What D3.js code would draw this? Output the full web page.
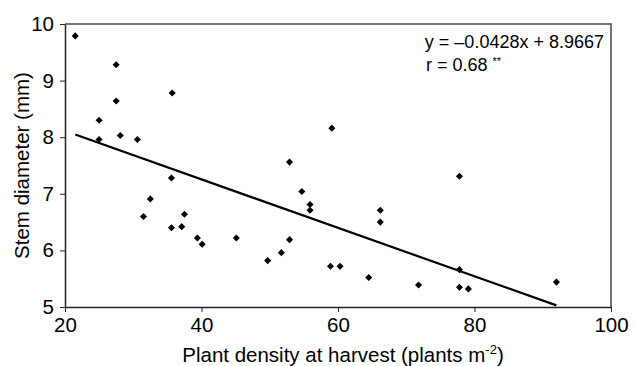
<!DOCTYPE html>
<html lang="en">
<head>
<meta charset="UTF-8">
<title>Stem diameter vs plant density</title>
<script src="https://d3js.org/d3.v7.min.js"></script>
<style>
    body { margin: 0; background: #fff; font-family: "Liberation Sans", Arial, sans-serif; }
    .axis text { font-size: 20.5px; fill: #000; font-family: "Liberation Sans", Arial, sans-serif; }
    .axis path, .axis line { stroke: #222; }
</style>
</head>
<body>
<div id="chart"></div>
<script>
// plant density at harvest (plants m-2)
const density = [21.5, 27.5, 27.5, 35.7, 25.0, 25.0, 28.1, 30.6,
    35.6, 32.5, 31.5, 37.5, 35.6, 37.1, 39.4, 40.1, 45.1,
    59.1, 52.9, 54.7, 55.9, 55.9, 66.2, 66.2, 52.9, 51.7, 49.7, 58.9, 60.3, 64.5,
    77.8, 77.8, 71.8, 77.8, 79.1, 92.0];
// stem diameter (mm)
const diameter = [9.79, 9.28, 8.64, 8.78, 8.30, 7.96, 8.03, 7.96,
    7.28, 6.91, 6.60, 6.64, 6.40, 6.42, 6.22, 6.11, 6.22,
    8.16, 7.56, 7.04, 6.81, 6.71, 6.71, 6.50, 6.19, 5.96, 5.82, 5.72, 5.72, 5.52,
    7.31, 5.66, 5.39, 5.35, 5.32, 5.44];
const xTicks = [20, 40, 60, 80, 100];
const yTicks = [5, 6, 7, 8, 9, 10];
const slope = -0.0428, intercept = 8.9667;

const W = 635, H = 366;
const margin = { top: 24, right: 24, bottom: 59, left: 65 };
const width = W - margin.left - margin.right;
const height = H - margin.top - margin.bottom;

const svg = d3.select("#chart").append("svg")
    .attr("width", W).attr("height", H);
const g = svg.append("g").attr("transform", `translate(${margin.left},${margin.top})`);

const x = d3.scaleLinear().domain([20, 100]).range([0, width]);
const y = d3.scaleLinear().domain([5, 10]).range([height, 0]);

// frame (top + right)
g.append("path")
    .attr("d", `M0,0H${width}V${height}`)
    .attr("fill", "none").attr("stroke", "#444").attr("stroke-width", 1.5);

g.append("g").attr("class", "axis")
    .attr("transform", `translate(0,${height})`)
    .call(d3.axisBottom(x).tickValues(xTicks).tickFormat(d3.format("d"))
        .tickSize(5).tickSizeOuter(0).tickPadding(5))
    .call(a => a.select(".domain").attr("stroke-width", 1.5));

g.append("g").attr("class", "axis")
    .call(d3.axisLeft(y).tickValues(yTicks).tickFormat(d3.format("d"))
        .tickSize(5).tickSizeOuter(0).tickPadding(6))
    .call(a => a.select(".domain").attr("stroke-width", 1.5));

// regression line
const xr = d3.extent(density);
g.append("line")
    .attr("x1", x(xr[0])).attr("y1", y(slope * xr[0] + intercept))
    .attr("x2", x(xr[1])).attr("y2", y(slope * xr[1] + intercept))
    .attr("stroke", "#000").attr("stroke-width", 2.2);

// points
g.selectAll(".dot")
    .data(density.map((d, i) => [d, diameter[i]]))
    .enter().append("path")
    .attr("class", "dot")
    .attr("d", d3.symbol(d3.symbolDiamond2, 32))
    .attr("transform", d => `translate(${x(d[0])},${y(d[1])})`)
    .attr("fill", "#000");

// annotation
g.append("text")
    .attr("x", width - 7).attr("y", 24)
    .attr("text-anchor", "end")
    .style("font-size", "18px")
    .text("y = \u20130.0428x + 8.9667");
const rt = g.append("text")
    .attr("x", 361).attr("y", 47)
    .style("font-size", "18px")
    .text("r = 0.68 ");
rt.append("tspan").attr("dy", -6).style("font-size", "11px").text("**");

// axis titles
const xt = svg.append("text")
    .attr("x", 343).attr("y", 362)
    .attr("text-anchor", "middle")
    .style("font-size", "20.5px")
    .text("Plant density at harvest (plants m");
xt.append("tspan").attr("dy", -8).style("font-size", "13px").text("-2");
xt.append("tspan").attr("dy", 8).text(")");

svg.append("text")
    .attr("transform", `translate(29,${margin.top + height / 2}) rotate(-90)`)
    .attr("text-anchor", "middle")
    .style("font-size", "20.5px")
    .text("Stem diameter (mm)");
</script>
</body>
</html>
